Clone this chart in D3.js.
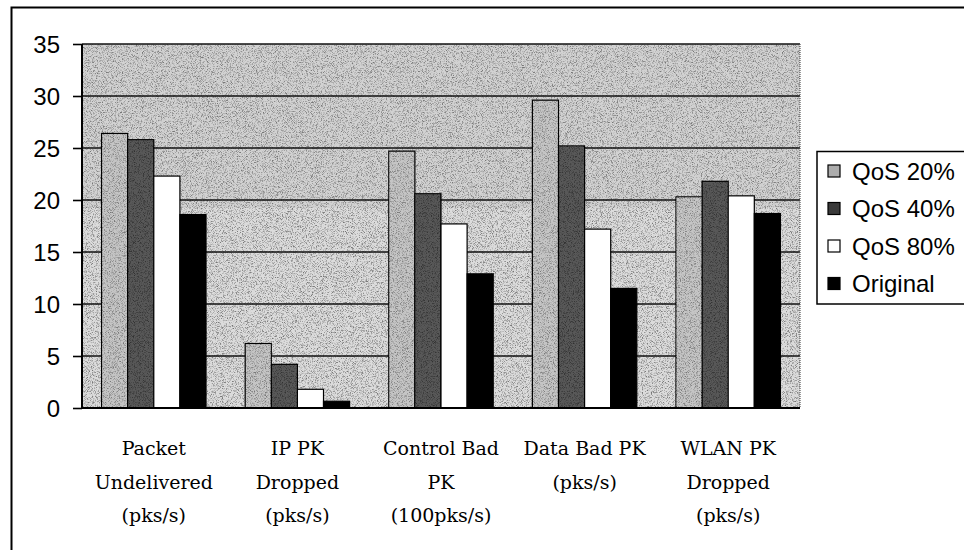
<!DOCTYPE html>
<html><head><meta charset="utf-8">
<script src="https://cdn.jsdelivr.net/npm/d3@7/dist/d3.min.js"></script>
<style>html,body{margin:0;padding:0;background:#fff;}svg{display:block;}</style>
</head><body>
<svg id="chart" width="964" height="550"></svg>
<script>
const categories = [
  ["Packet","Undelivered","(pks/s)"],
  ["IP PK","Dropped","(pks/s)"],
  ["Control Bad","PK","(100pks/s)"],
  ["Data Bad PK","(pks/s)"],
  ["WLAN PK","Dropped","(pks/s)"]
];
const seriesNames = ["QoS 20%","QoS 40%","QoS 80%","Original"];
const qos20 = [26.4, 6.2, 24.7, 29.6, 20.3];
const qos40 = [25.8, 4.2, 20.6, 25.2, 21.8];
const qos80 = [22.3, 1.8, 17.7, 17.2, 20.4];
const original = [18.6, 0.65, 12.9, 11.5, 18.7];
const yTicks = [0,5,10,15,20,25,30,35];

const seriesValues = [qos20, qos40, qos80, original];
const fills = ["#acacac","#3a3a3a","#ffffff","#000000"];

const svg = d3.select("#chart");
const defs = svg.append("defs");
// speckle texture (deterministic noise)
const f = defs.append("filter").attr("id","speck").attr("x",0).attr("y",0).attr("width","100%").attr("height","100%")
  .attr("color-interpolation-filters","sRGB");
f.append("feTurbulence").attr("type","fractalNoise").attr("baseFrequency",1.2).attr("numOctaves",2).attr("seed",5).attr("result","n");
f.append("feColorMatrix").attr("in","n").attr("type","matrix")
  .attr("values","3 0 0 0 -0.6  3 0 0 0 -0.6  3 0 0 0 -0.6  0 0 0 0 1");

const M = {left:82, right:800, top:44, bottom:408};

// outer frame
svg.append("rect").attr("x",11.5).attr("y",7.5).attr("width",1000).attr("height",600)
  .attr("fill","#fff").attr("stroke","#000").attr("stroke-width",2);

const x0 = d3.scaleBand().domain(d3.range(categories.length)).range([M.left, M.right]).paddingInner(0).paddingOuter(0);
const gap = 1.5;
const inner = x0.bandwidth()/(seriesNames.length+gap);
const x1 = d3.scaleBand().domain(d3.range(seriesNames.length))
  .range([inner*gap/2, x0.bandwidth()-inner*gap/2]).padding(0);
const y = d3.scaleLinear().domain([0,35]).range([M.bottom, M.top]);

// plot background
svg.append("rect").attr("x",M.left).attr("y",M.top).attr("width",M.right-M.left).attr("height",M.bottom-M.top)
  .attr("fill","#c6c6c6");
svg.append("rect").attr("x",M.left).attr("y",M.top).attr("width",M.right-M.left).attr("height",M.bottom-M.top)
  .attr("fill","#fff").attr("filter","url(#speck)").attr("opacity",0.4);
svg.append("rect").attr("x",M.left).attr("y",M.top).attr("width",M.right-M.left).attr("height",(M.bottom-M.top)*0.45)
  .attr("fill","#808080").attr("opacity",0.1);

// gridlines
svg.append("g").selectAll("line").data(yTicks.filter(d=>d>0)).join("line")
  .attr("x1",M.left).attr("x2",M.right).attr("y1",d=>y(d)).attr("y2",d=>y(d))
  .attr("stroke","#111").attr("stroke-width",1.6);

// right border (dotted)
svg.append("line").attr("x1",M.right).attr("x2",M.right).attr("y1",M.top).attr("y2",M.bottom)
  .attr("stroke","#555").attr("stroke-width",1.2).attr("stroke-dasharray","1,1");

// bars
const groups = svg.append("g").selectAll("g").data(categories).join("g")
  .attr("transform",(d,i)=>`translate(${x0(i)},0)`);
groups.selectAll("rect.b").data((d,i)=>seriesValues.map((s,k)=>({k,v:s[i]}))).join("rect")
  .attr("class","b")
  .attr("x",d=>x1(d.k)).attr("width",x1.bandwidth())
  .attr("y",d=>y(d.v)).attr("height",d=>y(0)-y(d.v))
  .attr("fill",d=>fills[d.k]).attr("stroke","#000").attr("stroke-width",1.2);
// speckle on gray bars
groups.selectAll("rect.sp").data((d,i)=>seriesValues.map((s,k)=>({k,v:s[i]})).filter(d=>d.k<2)).join("rect")
  .attr("class","sp")
  .attr("x",d=>x1(d.k)+1).attr("width",x1.bandwidth()-2)
  .attr("y",d=>y(d.v)+1).attr("height",d=>y(0)-y(d.v)-1)
  .attr("fill","#fff").attr("filter","url(#speck)").attr("opacity",d=>d.k===0?0.3:0.15);

// axes
const yAxis = d3.axisLeft(y).tickValues(yTicks).tickSize(9).tickPadding(13).tickFormat(d3.format("d"));
const ga = svg.append("g").attr("transform",`translate(${M.left},0)`).call(yAxis);
ga.select(".domain").attr("stroke","#000").attr("stroke-width",2).attr("d",`M0,${M.top}V${M.bottom}`);
ga.selectAll(".tick line").attr("stroke","#000").attr("stroke-width",1.6);
ga.selectAll(".tick text").attr("font-family","'Liberation Sans',Arial,sans-serif").attr("font-size",24)
  .attr("fill","#000").attr("dy","0.36em");

svg.append("line").attr("x1",M.left).attr("x2",M.right).attr("y1",M.bottom).attr("y2",M.bottom)
  .attr("stroke","#000").attr("stroke-width",2);

// x labels
const xl = svg.append("g").selectAll("text").data(categories).join("text")
  .attr("x",(d,i)=>x0(i)+x0.bandwidth()/2).attr("y",455)
  .attr("text-anchor","middle").attr("font-family","'DejaVu Serif',serif").attr("font-size",19).attr("fill","#000");
xl.selectAll("tspan").data(d=>d).join("tspan")
  .attr("x",function(){return this.parentNode.getAttribute("x");})
  .attr("dy",(d,i)=>i===0?0:33.5).text(d=>d);

// legend
const L = svg.append("g");
L.append("rect").attr("x",817).attr("y",151.5).attr("width",200).attr("height",152.5)
  .attr("fill","#fff").attr("stroke","#000").attr("stroke-width",1.5);
const li = L.selectAll("g").data(seriesNames).join("g")
  .attr("transform",(d,i)=>`translate(828,${171+i*37.5})`);
li.append("rect").attr("x",0).attr("y",-6).attr("width",12).attr("height",12)
  .attr("fill",(d,i)=>fills[i]).attr("stroke","#000").attr("stroke-width",1.2);
li.append("text").attr("x",24).attr("y",0).attr("dy","0.36em")
  .attr("font-family","'Liberation Sans',Arial,sans-serif").attr("font-size",24).attr("fill","#000")
  .text(d=>d);
</script>
</body></html>
